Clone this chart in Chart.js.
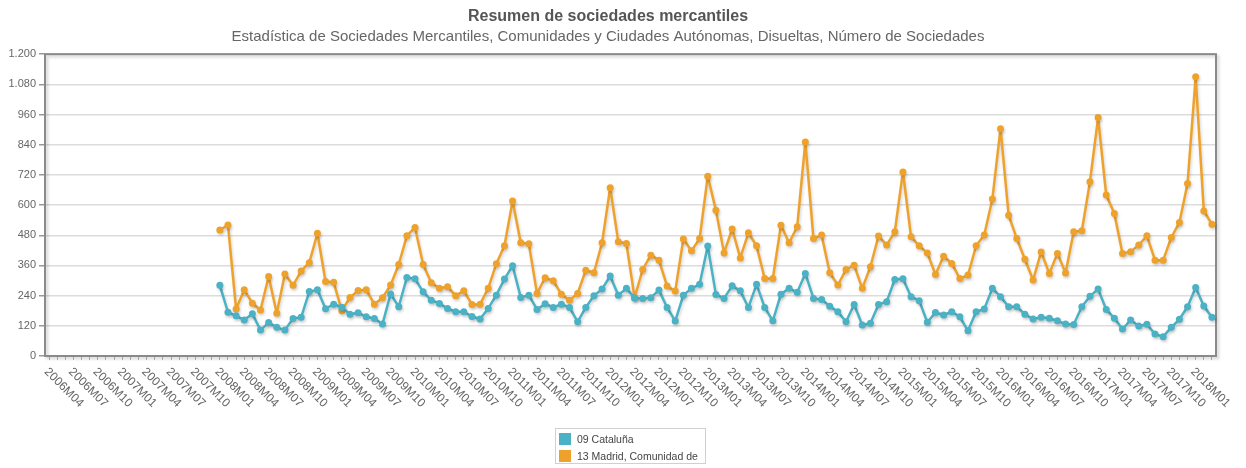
<!DOCTYPE html>
<html>
<head>
<meta charset="utf-8">
<script src="https://cdn.jsdelivr.net/npm/chart.js@4"></script>
<style>
  body { margin: 0; background: #fff; }
  #wrap { position: relative; width: 1246px; height: 468px; }
  #legend {
    position: absolute; left: 555px; top: 428px; width: 151px; height: 36px;
    border: 1px solid #d0d0d0; font: 10.5px "Liberation Sans", Arial, sans-serif; color: #444;
    padding: 1px 0 0 3px; box-sizing: border-box;
  }
  #legend .item { height: 17px; display: flex; align-items: center; }
  #legend .sw { width: 12px; height: 12px; margin-right: 6px; }
</style>
</head>
<body>
<div id="wrap">
  <canvas id="chart" width="1246" height="468"></canvas>
  <div id="legend"></div>
</div>
<script>
// month categories 2006M04 .. 2018M03
const months = [];
for (let y = 2006; y <= 2018; y++) {
    for (let m = 1; m <= 12; m++) {
        if (y === 2006 && m < 4) continue;
        if (y === 2018 && m > 3) break;
        months.push(y + "M" + String(m).padStart(2, "0"));
    }
}
const tickLabels = months.filter((m) => ["01", "04", "07", "10"].includes(m.slice(5)));
const startMonth = "2008M01";

const seriesNames = ["09 Cataluña", "13 Madrid, Comunidad de"];
const seriesColors = ["#4bb2c5", "#eea22c"];

// values from 2008M01 onwards
const cataluna = [
    281, 174, 160, 143, 168, 103, 133, 114, 103, 149, 154, 256,
    263, 188, 206, 194, 166, 172, 156, 149, 127, 247, 196, 312,
    307, 255, 222, 209, 189, 176, 176, 157, 147, 189, 242, 306,
    359, 233, 242, 185, 208, 193, 206, 193, 136, 193, 240, 266,
    318, 242, 269, 231, 229, 232, 262, 193, 139, 242, 269, 285,
    437, 245, 229, 279, 259, 193, 285, 193, 140, 246, 269, 253,
    328, 229, 225, 198, 176, 136, 205, 123, 130, 205, 216, 304,
    307, 236, 220, 134, 173, 163, 176, 156, 100, 176, 187, 269,
    236, 196, 196, 166, 147, 154, 150, 140, 127, 125, 196, 238,
    266, 185, 150, 107, 143, 119, 126, 87, 77, 114, 146, 196,
    272, 199, 154
];
const madrid = [
    501, 521, 187, 263, 210, 183, 316, 170, 326, 281, 338, 371,
    488, 296, 293, 180, 233, 260, 263, 206, 232, 282, 364, 478,
    511, 364, 291, 269, 275, 240, 259, 205, 206, 269, 367, 438,
    616, 450, 446, 249, 311, 299, 246, 222, 249, 341, 331, 450,
    669, 454, 447, 232, 344, 401, 381, 278, 258, 465, 418, 467,
    715, 580, 410, 505, 390, 490, 438, 308, 308, 520, 450, 514,
    851, 467, 481, 331, 282, 344, 361, 269, 355, 477, 441, 494,
    732, 474, 438, 410, 324, 397, 368, 308, 322, 438, 481, 624,
    904, 560, 467, 385, 302, 414, 328, 408, 330, 494, 498, 693,
    948, 640, 567, 408, 415, 441, 478, 381, 381, 471, 531, 686,
    1110, 577, 524
];

const lead = months.indexOf(startMonth);
function pad(arr) {
    return new Array(lead).fill(null).concat(arr);
}

const font = '"Liberation Sans", Arial, sans-serif';

const shadowPlugin = {
    id: "lineShadow",
    beforeDatasetDraw(chart) {
        const ctx = chart.ctx;
        ctx.save();
        ctx.shadowColor = "rgba(0,0,0,0.18)";
        ctx.shadowBlur = 3;
        ctx.shadowOffsetX = 1;
        ctx.shadowOffsetY = 2;
    },
    afterDatasetDraw(chart) {
        chart.ctx.restore();
    }
};

const framePlugin = {
    id: "frame",
    beforeDatasetsDraw(chart) {
        const a = chart.chartArea;
        const ctx = chart.ctx;
        ctx.save();
        ctx.strokeStyle = "#8a8a8a";
        ctx.lineWidth = 2;
        ctx.shadowColor = "rgba(0,0,0,0.2)";
        ctx.shadowBlur = 3;
        ctx.shadowOffsetX = 2;
        ctx.shadowOffsetY = 2;
        ctx.strokeRect(a.left, a.top, a.right - a.left, a.bottom - a.top);
        ctx.restore();
    }
};

const xLabelPlugin = {
    id: "xLabels",
    afterDraw(chart) {
        const sc = chart.scales.x;
        const ctx = chart.ctx;
        ctx.save();
        ctx.font = "12px " + font;
        ctx.fillStyle = "#666";
        ctx.textAlign = "left";
        ctx.textBaseline = "middle";
        tickLabels.forEach((lab) => {
            const x = sc.getPixelForValue(months.indexOf(lab));
            ctx.save();
            ctx.translate(x - 3, sc.top + 14);
            ctx.rotate(Math.PI / 4);
            ctx.fillText(lab, 0, 0);
            ctx.restore();
        });
        ctx.restore();
    }
};

const chart = new Chart(document.getElementById("chart"), {
    type: "line",
    data: {
        labels: months,
        datasets: [
            {
                label: seriesNames[0], data: pad(cataluna),
                borderColor: seriesColors[0], backgroundColor: seriesColors[0],
                borderWidth: 2.5, pointRadius: 3.5, pointBorderWidth: 0, tension: 0,
                borderJoinStyle: "round", borderCapStyle: "round"
            },
            {
                label: seriesNames[1], data: pad(madrid),
                borderColor: seriesColors[1], backgroundColor: seriesColors[1],
                borderWidth: 2.5, pointRadius: 3.5, pointBorderWidth: 0, tension: 0,
                borderJoinStyle: "round", borderCapStyle: "round"
            }
        ]
    },
    options: {
        responsive: false,
        animation: false,
        layout: { padding: { left: 0, right: 30, top: 0, bottom: 0 } },
        plugins: {
            legend: { display: false },
            tooltip: { enabled: false },
            title: {
                display: true, text: "Resumen de sociedades mercantiles",
                color: "#555", font: { family: font, size: 16, weight: "bold" },
                padding: { top: 7, bottom: 0 }
            },
            subtitle: {
                display: true,
                text: "Estadística de Sociedades Mercantiles, Comunidades y Ciudades Autónomas, Disueltas, Número de Sociedades",
                color: "#666", font: { family: font, size: 15 },
                padding: { top: 2, bottom: 8 }
            }
        },
        scales: {
            x: {
                offset: true,
                grid: { drawOnChartArea: false, drawTicks: true, tickLength: 4, color: "#b5b5b5", offset: false },
                border: { display: false },
                ticks: { display: false, autoSkip: false },
                afterFit(scale) { scale.height = 112; }
            },
            y: {
                min: 0, max: 1200,
                grid: { color: "#dcdcdc", lineWidth: 1.5, tickLength: 6, tickColor: "#999" },
                border: { display: false },
                ticks: {
                    stepSize: 120, color: "#666", padding: 3,
                    font: { family: font, size: 11 },
                    callback: (v) => String(v).replace(/(\d)(?=(\d{3})+$)/, "$1.")
                },
                afterFit(scale) { scale.width = 45; }
            }
        }
    },
    plugins: [framePlugin, shadowPlugin, xLabelPlugin]
});

const legend = document.getElementById("legend");
chart.data.datasets.forEach((ds) => {
    const item = document.createElement("div");
    item.className = "item";
    item.innerHTML = '<span class="sw" style="background:' + ds.borderColor + '"></span>' + ds.label;
    legend.appendChild(item);
});
</script>
</body>
</html>
